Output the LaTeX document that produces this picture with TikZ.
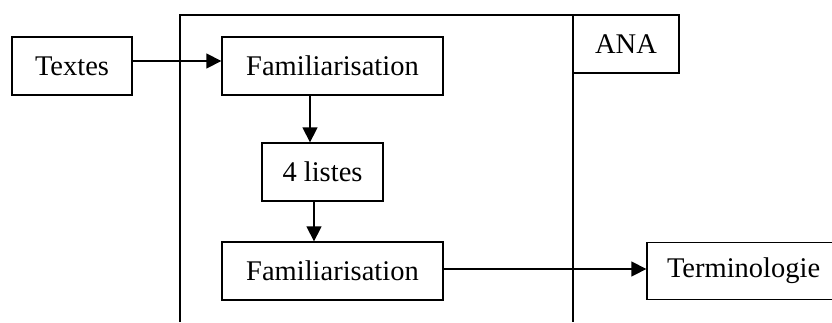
\documentclass[tikz,border=0pt]{standalone}
\usepackage{fontspec}
\setmainfont{Liberation Serif}
\usetikzlibrary{arrows.meta}

\begin{document}
\begin{tikzpicture}[x=1pt, y=-1pt, line width=1.3pt, >={Triangle[length=15pt, width=15pt]}]
  \useasboundingbox (0,0) rectangle (832,322);
  \clip (0,0) rectangle (832,322);
  % cadre
  \draw (180,322) -- (180,15) -- (573,15);
  \draw (573,15) -- (573,322);
 \begin{scope}[every node/.style={draw, rectangle, inner sep=0pt, font=\fontsize{28.5}{33}\selectfont}]
   \node (textes) [minimum width=120pt, minimum height=58pt] at (72,66) {Textes};
   \node (fam1) [minimum width=221pt, minimum height=58pt] at (332.5,66) {Familiarisation};
   \node (listes) [minimum width=121pt, minimum height=58pt] at (322.5,172) {4 listes};
   \node (fam2) [minimum width=221pt, minimum height=58pt] at (332.5,271) {Familiarisation};
   \node (termino) [minimum width=210pt, minimum height=57pt, text width=170pt] at (752,271) {Terminologie};
   \node (ana) [minimum width=106pt, minimum height=58pt] at (626,44) {ANA};
   \draw [->] ([yshift=5pt]textes.east) -- ([yshift=5pt]fam1.west);
   \draw [->] (fam1.south -| 310,0) -- (listes.north -| 310,0);
   \draw [->] (listes.south -| 314,0) -- (fam2.north -| 314,0);
   \draw [->] ([yshift=2pt]fam2.east) -- ([yshift=2pt]termino.west);
 \end{scope}
\end{tikzpicture}
\end{document}
